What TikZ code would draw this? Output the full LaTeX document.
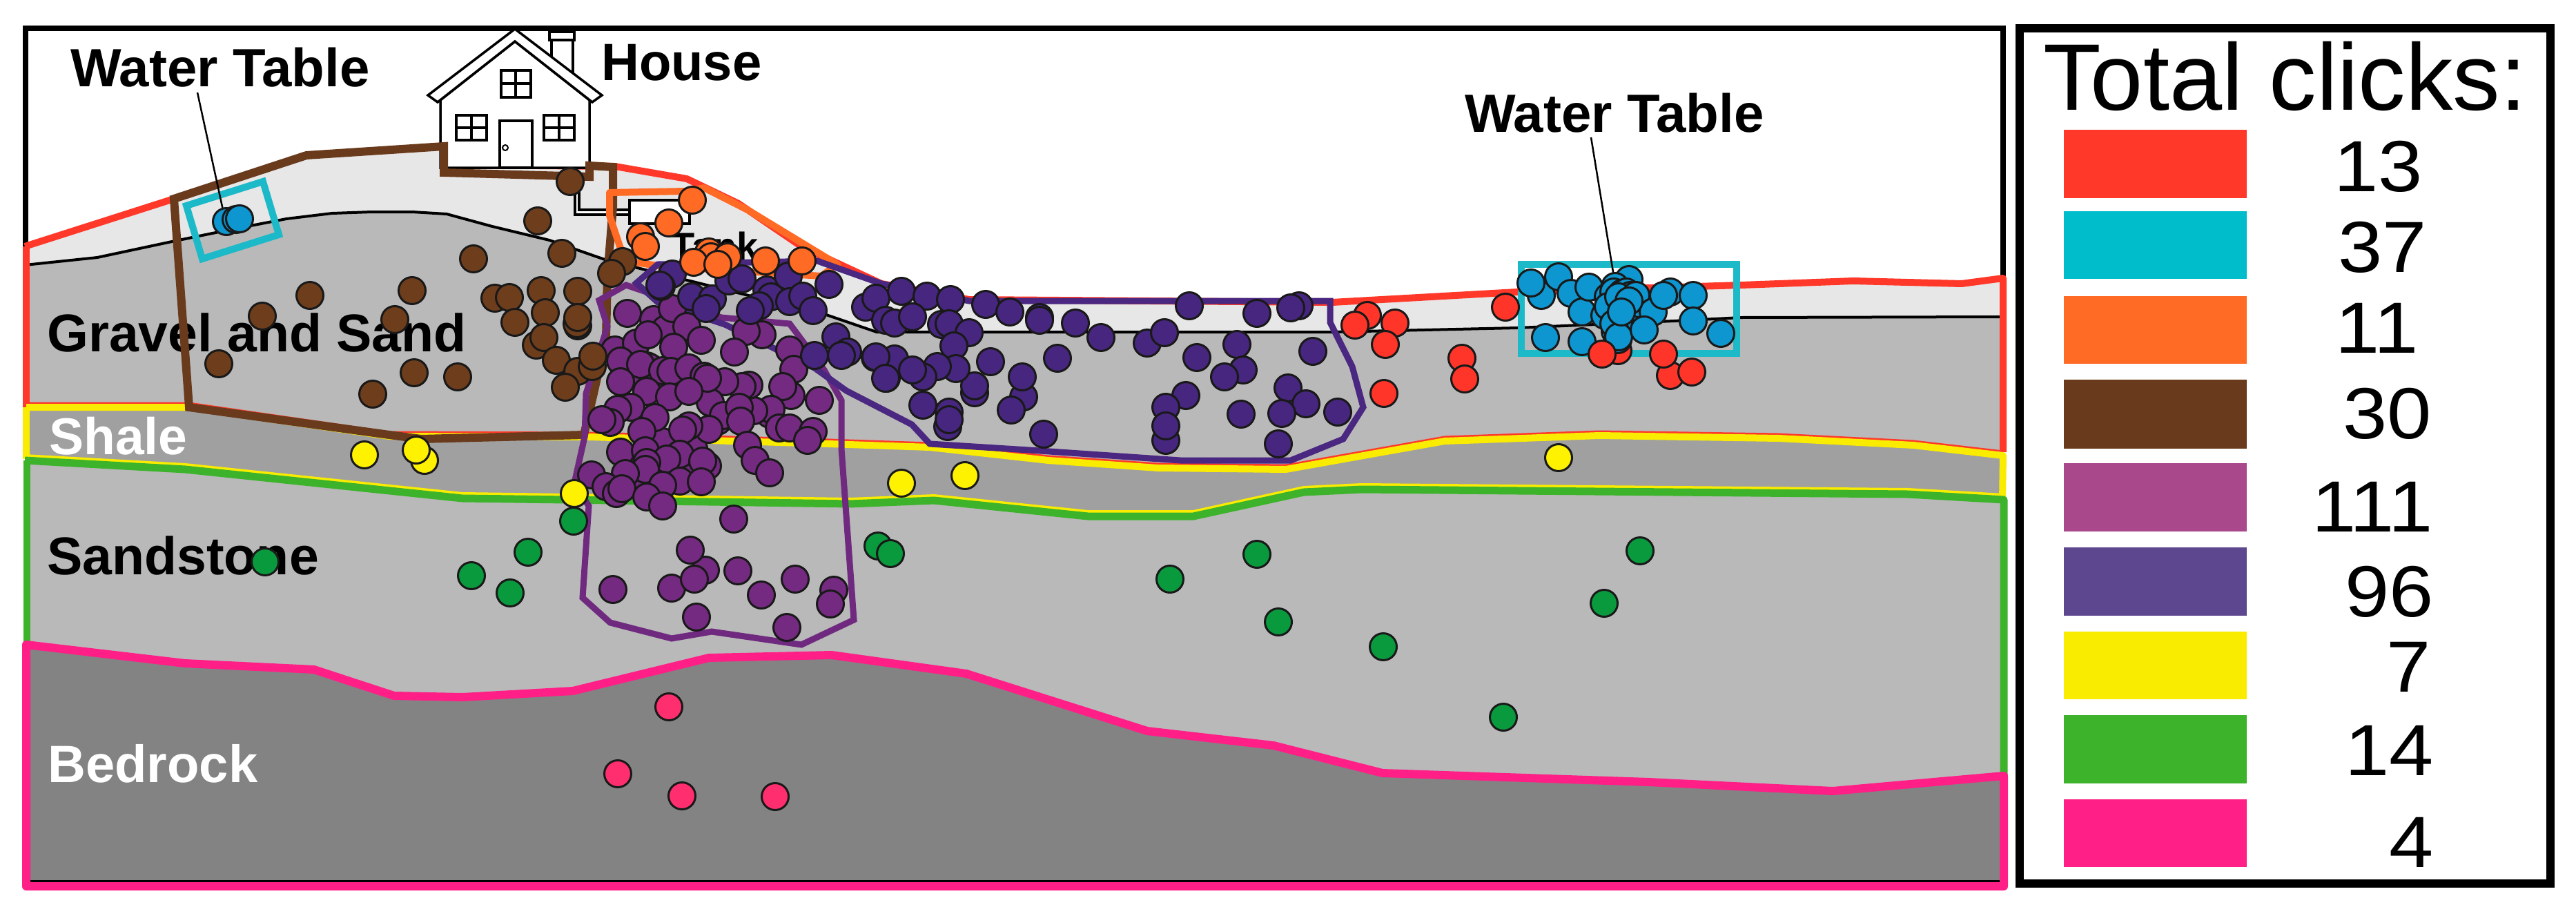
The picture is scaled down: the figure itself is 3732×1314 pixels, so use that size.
\documentclass[tikz,border=0pt]{standalone}
\usepackage{fontspec}
\setmainfont{Liberation Sans}
\newfontfamily\keyfont[FakeStretch=1.1]{Liberation Sans}
\definecolor{soilpale}{HTML}{E8E7E7}
\definecolor{soilmid}{HTML}{B9B9B9}
\definecolor{shalegray}{HTML}{A0A0A0}
\definecolor{rockgray}{HTML}{838383}
\definecolor{keyred}{HTML}{FF382A}
\definecolor{keycyan}{HTML}{00BDCC}
\definecolor{keyorange}{HTML}{FF6A24}
\definecolor{keybrown}{HTML}{693A1B}
\definecolor{keymauve}{HTML}{AA488C}
\definecolor{keyviolet}{HTML}{5D478F}
\definecolor{keyyellow}{HTML}{F9EC00}
\definecolor{keygreen}{HTML}{3DB32C}
\definecolor{keypink}{HTML}{FF1F87}
\definecolor{linecyan}{HTML}{1CB9C9}
\definecolor{linemauve}{HTML}{6F2A80}
\definecolor{lineviolet}{HTML}{4A2780}
\definecolor{dotmauve}{HTML}{752A82}
\definecolor{dotviolet}{HTML}{47267F}
\definecolor{dotbrown}{HTML}{6E3E1C}
\definecolor{dotblue}{HTML}{0E96D0}
\definecolor{dotred}{HTML}{FF3529}
\definecolor{dotyellow}{HTML}{FFF200}
\definecolor{dotgreen}{HTML}{0A9A3E}
\definecolor{dotpink}{HTML}{FF2E6E}
\tikzset{
  clickdot/.style={draw=black!90, line width=3pt, fill=#1},
  rimline/.style={draw=#1, line width=10pt, line join=round},
  boldlabel/.style={anchor=base west, inner sep=0pt, font=\fontsize{#1}{#1}\selectfont\bfseries},
  keylabel/.style={anchor=base east, inner sep=0pt, font=\fontsize{105}{105}\keyfont},
  houseline/.style={draw=black, line width=3.5pt, fill=white},
  pointer/.style={draw=black, line width=2.5pt}
}
\newcommand{\surfaceline}{(36, 357) -- (252, 288) -- (444, 225) -- (643, 212) -- (780, 240) -- (891, 241) -- (995, 259) -- (1070, 295) -- (1161, 357) -- (1277, 411) -- (1404, 434) -- (1930, 438) -- (2198, 423) -- (2523, 413) -- (2685, 407) -- (2842, 411) -- (2902, 403)}
\newcommand{\tableline}{(36, 384) -- (141, 373) -- (249, 350) -- (332, 333) -- (415, 317) -- (481, 309) -- (539, 307) -- (597, 307) -- (647, 310) -- (713, 328) -- (796, 348) -- (879, 377) -- (1197, 456) -- (1270, 481) -- (1930, 481) -- (2198, 475) -- (2425, 465) -- (2523, 460) -- (2897, 459)}
\newcommand{\shaletopline}{(38, 590) -- (274, 590) -- (564, 632) -- (853, 633) -- (1200, 643) -- (1347, 648) -- (1519, 667) -- (1678, 678) -- (1863, 680) -- (2093, 639) -- (2317, 631) -- (2577, 635) -- (2772, 645) -- (2902, 660)}
\newcommand{\shalebaseline}{(36, 667) -- (268, 680) -- (670, 722) -- (821, 724) -- (1232, 730) -- (1353, 725) -- (1576, 748) -- (1729, 748) -- (1889, 713) -- (1973, 709) -- (2764, 716) -- (2903, 724)}
\newcommand{\rockline}{(38, 934) -- (268, 961) -- (455, 970) -- (571, 1008) -- (670, 1010) -- (830, 1001) -- (1027, 953) -- (1205, 949) -- (1400, 976) -- (1662, 1059) -- (1845, 1080) -- (2003, 1120) -- (2389, 1133) -- (2655, 1146) -- (2903, 1124)}
\begin{document}
\begin{tikzpicture}[x=1pt, y=-1pt]
      \useasboundingbox (0, 0) rectangle (3732, 1314);
      \fill [soilpale] \surfaceline -- (2902, 1280) -- (36, 1280) -- cycle;
      \fill [soilmid] \tableline -- (2902, 1280) -- (36, 1280) -- cycle;
      \fill [shalegray] \shaletopline -- (2902, 1280) -- (36, 1280) -- cycle;
      \fill [soilmid] \shalebaseline -- (2902, 1280) -- (36, 1280) -- cycle;
      \fill [rockgray] \rockline -- (2902, 1280) -- (36, 1280) -- cycle;
      \draw [line width=4pt] \tableline;
      \draw [line width=8pt] (37, 360) -- (37, 41) -- (2902, 41) -- (2902, 410);
      \draw [line width=3pt] (40, 1276) -- (2900, 1276);

      \node [boldlabel=77] (gravellabel) at (68, 509) {Gravel and Sand};
      \node [boldlabel=75, text=white] (shalelabel) at (71, 658) {Shale};
      \node [boldlabel=77] (sandlabel) at (68, 832) {Sandstone};
      \node [boldlabel=76, text=white] (rocklabel) at (69, 1133) {Bedrock};
      \node [boldlabel=78] (tableleft) at (102, 125) {Water Table};
      \node [boldlabel=78] (tableright) at (2122, 191) {Water Table};
      \node [boldlabel=76] (houselabel) at (871, 116) {House};
      \node [boldlabel=56] (tanklabel) at (972, 376) {Tank};

      \draw [rimline=keyred] \surfaceline -- (2902, 655);
      \draw [rimline=keyred] (38, 357) -- (38, 590);
      \draw [rimline=keyred, line width=5pt, yshift=5pt] \shaletopline;
      \draw [rimline=keyyellow] \shaletopline -- (2901, 725);
      \draw [rimline=keyyellow] (38, 590) -- (38, 665);
      \draw [rimline=keyyellow, line width=6pt, yshift=6pt] \shalebaseline;
      \draw [rimline=keygreen, line width=11pt] \shalebaseline -- (2903, 1124);
      \draw [rimline=keygreen] (39, 667) -- (39, 934);
      \draw [rimline=keypink, line width=12pt] \rockline -- (2903, 1284) -- (38, 1284) -- cycle;

      \draw [houseline] (799, 58) rectangle (830, 110);
      \draw [houseline] (796, 46) rectangle (832, 58);
      \draw [houseline] (638, 145) -- (746, 60) -- (854, 145) -- (854, 243) -- (638, 243) -- cycle;
      \draw [houseline] (746, 42) -- (872, 138) -- (858, 148) -- (746, 60) -- (634, 148) -- (620, 138) -- cycle;
      \draw [houseline] (726, 102) rectangle (769, 141);
      \draw [line width=3.5pt] (747, 102) -- (747, 141) (726, 121) -- (769, 121);
      \foreach \wx in {661, 788} {
        \draw [houseline] (\wx, 167) rectangle (\wx + 44, 203);
        \draw [line width=3.5pt] (\wx + 22, 167) -- (\wx + 22, 203) (\wx, 185) -- (\wx + 44, 185);
      }
      \draw [houseline] (724, 175) rectangle (771, 243);
      \draw [line width=2pt] (732, 214) circle (4);

      \draw [houseline] (833, 255) -- (833, 311) -- (912, 311) -- (912, 304) -- (839, 304) -- (839, 255);
      \draw [houseline] (912, 290) rectangle (999, 324);

      \draw [rimline=keybrown, line width=12pt, line join=miter] (252, 288) -- (444, 225) -- (643, 212) -- (643, 250) -- (854, 256) -- (854, 240) -- (888, 242) -- (888, 300) -- (880, 400) -- (878, 490) -- (860, 570) -- (846, 630) -- (610, 636) -- (564, 630) -- (274, 590) -- cycle;
      \draw [rimline=keyorange] (883, 279) -- (995, 277) -- (1020, 272) -- (1083, 304) -- (1213, 383) -- (1190, 400) -- (953, 385) -- (920, 380) -- (899, 360) -- (883, 312) -- cycle;
      \draw [rimline=linemauve, line width=9pt, line join=miter] (907, 413) -- (868, 435) -- (880, 473) -- (849, 570) -- (847, 633) -- (832, 700) -- (853, 733) -- (844, 866) -- (884, 902) -- (973, 925) -- (1031, 915) -- (1161, 934) -- (1237, 898) -- (1219, 650) -- (1219, 580) -- (1194, 536) -- (1144, 469) -- (1045, 460) -- cycle;
      \draw [rimline=lineviolet, line width=9pt, line join=miter] (953, 383) -- (1184, 378) -- (1277, 411) -- (1404, 436) -- (1927, 436) -- (1927, 467) -- (1959, 531) -- (1975, 590) -- (1946, 636) -- (1870, 667) -- (1710, 667) -- (1506, 653) -- (1347, 643) -- (1321, 615) -- (1226, 566) -- (1180, 533) -- (1050, 470) -- (953, 438) -- (922, 410) -- cycle;
      \draw [rimline=linecyan, line width=10pt, line join=miter] (270, 298) -- (381, 263) -- (404, 340) -- (293, 375) -- cycle;
      \draw [rimline=linecyan, line width=10pt, line join=miter] (2204, 383) rectangle (2516, 512);

      \foreach \x/\y in {969/1024, 895/1121, 988/1153, 1123/1154}
        \draw [clickdot=dotpink] (\x, \y) circle (19.5);
      \foreach \x/\y in {384/814, 765/800, 683/834, 739/859, 831/755, 1272/791, 1290/802, 1821/803, 1695/839, 1852/901, 2004/937, 2178/1039, 2376/798, 2324/874}
        \draw [clickdot=dotgreen] (\x, \y) circle (19.5);
      \foreach \x/\y in {950/560, 925/545, 1005/650, 960/640, 930/700, 985/680, 1040/610, 1115/600, 888/854, 973/852, 1103/862, 1152/839, 1208/855, 1203/875, 1009/894, 1140/909, 1022/826, 1006/839, 1069/827, 1000/797, 1063/752, 891/507, 922/497, 909/454, 947/463, 964/477, 974/447, 995/473, 939/485, 976/503, 1016/493, 1104/485, 1081/480, 1064/510, 1144/507, 1150/535, 1146/573, 1134/560, 1187/580, 1117/593, 1092/595, 1085/558, 1075/560, 1050/553, 1029/583, 1048/602, 1071/590, 1073/610, 1027/622, 998/617, 989/623, 899/523, 937/530, 941/532, 928/528, 960/537, 972/538, 998/533, 1020/545, 1025/548, 899/553, 937/567, 970/575, 998/567, 914/590, 895/593, 884/612, 872/608, 949/605, 930/625, 1129/620, 1144/620, 1178/625, 1170/638, 1083/645, 1094/667, 1115/685, 899/655, 935/653, 985/658, 966/665, 1025/675, 1018/668, 937/670, 935/680, 906/686, 985/697, 1016/698, 960/703, 857/688, 878/705, 893/715, 901/708, 937/720, 960/733}
        \draw [clickdot=dotmauve] (\x, \y) circle (19.5);
      \foreach \x/\y in {974/397, 958/415, 956/413, 1002/430, 1032/433, 1023/447, 1056/407, 1075/404, 1111/420, 1117/430, 1100/443, 1087/450, 1142/400, 1144/437, 1163/429, 1178/450, 1201/412, 1211/488, 1180/515, 1228/510, 1219/515, 1268/518, 1284/548, 1254/445, 1269/432, 1306/422, 1343/429, 1377/434, 1283/464, 1296/468, 1322/459, 1364/470, 1375/469, 1404/482, 1382/501, 1428/441, 1463/452, 1506/460, 1506/464, 1558/468, 1595/489, 1662/497, 1687/482, 1723/443, 1821/454, 1882/443, 1870/446, 1792/499, 1734/518, 1902/509, 1801/536, 1774/546, 1866/562, 1892/585, 1857/599, 1938/597, 1798/600, 1718/573, 1689/590, 1689/638, 1689/617, 1852/643, 1512/629, 1483/575, 1465/594, 1481/546, 1532/519, 1435/524, 1412/569, 1412/559, 1385/534, 1358/531, 1296/520, 1269/517, 1283/548, 1337/546, 1322/536, 1337/587, 1373/618, 1375/597, 1375/608}
        \draw [clickdot=dotviolet] (\x, \y) circle (19.5);
      \foreach \x/\y in {826/263, 779/320, 814/367, 686/375, 902/379, 886/396, 837/422, 784/421, 717/432, 738/431, 597/421, 449/428, 380/458, 572/463, 746/467, 790/453, 837/472, 836/469, 837/460, 777/500, 788/489, 806/522, 837/538, 858/531, 859/516, 819/561, 600/540, 663/546, 540/571, 317/527}
        \draw [clickdot=dotbrown] (\x, \y) circle (19.5);
      \foreach \x/\y in {1003/290, 969/323, 928/343, 935/357, 1027/365, 1030/372, 1054/372, 1005/380, 1040/383, 1109/378, 1162/378}
        \draw [clickdot=keyorange] (\x, \y) circle (19.5);
      \draw [clickdot=dotred] (2344, 508) circle (19.5);

      \coordinate (leftstart) at (286, 134);
      \coordinate (lefttip) at (323, 304);
      \coordinate (rightstart) at (2305, 199);
      \coordinate (righttip) at (2338, 400);
      \draw [pointer] (leftstart) -- (lefttip);
      \draw [pointer] (rightstart) -- (righttip);

      \foreach \x/\y in {328/321, 342/318, 347/317, 2233/428, 2218/410, 2258/401, 2276/425, 2292/452, 2302/416, 2239/489, 2292/495, 2360/405, 2340/415, 2330/430, 2350/445, 2365/445, 2340/455, 2345/470, 2340/480, 2375/440, 2325/457, 2338/423, 2330/444, 2338/469, 2350/425, 2356/423, 2362/428, 2345/430, 2370/428, 2395/452, 2360/436, 2420/423, 2410/428, 2453/428, 2453/465, 2493/483, 2344/492, 2345/488, 2382/478, 2349/452}
        \draw [clickdot=dotblue] (\x, \y) circle (19.5);
      \foreach \x/\y in {1981/457, 1963/471, 2021/468, 2007/499, 2005/570, 2118/519, 2122/549, 2181/445, 2321/513, 2420/544, 2451/539, 2410/513}
        \draw [clickdot=dotred] (\x, \y) circle (19.5);
      \foreach \x/\y in {528/659, 615/667, 603/652, 832/715, 1306/700, 1398/689, 2258/663}
        \draw [clickdot=dotyellow] (\x, \y) circle (19.5);

      \draw [line width=12pt] (2926, 41) rectangle (3695, 1280);
      \node [anchor=base west, inner sep=0pt, font=\fontsize{137}{137}\selectfont] (keytitle) at (2960, 159) {Total clicks:};
      \foreach \col/\ya/\yb/\num/\numx/\numy in {keyred/188/287/13/3510/277, keycyan/306/404/37/3516/394, keyorange/429/527/11/3504/511, keybrown/550/650/30/3523/635, keymauve/671/770/111/3525/770, keyviolet/793/892/96/3526/893, keyyellow/915/1013/7/3522/1002, keygreen/1036/1135/14/3526/1123, keypink/1158/1256/4/3526/1256} {
        \fill [\col] (2990, \ya) rectangle (3255, \yb);
        \node [keylabel] (count\num) at (\numx, \numy) {\num};
      }
    \end{tikzpicture}
\end{document}
